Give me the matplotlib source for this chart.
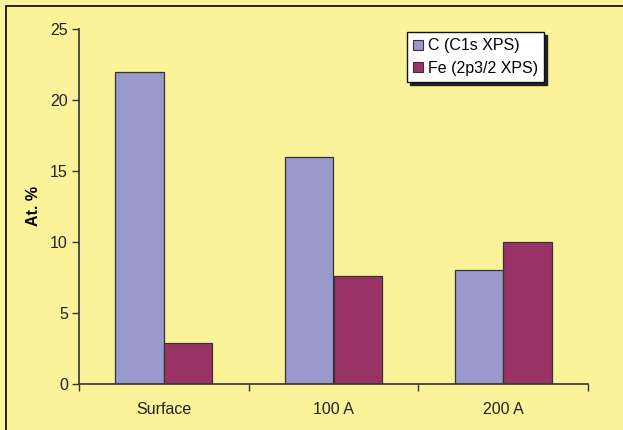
import numpy as np
import matplotlib.pyplot as plt
from matplotlib.patches import Rectangle

plt.rcParams['font.family'] = ['Liberation Sans', 'DejaVu Sans']

depths = ['Surface', '100 A', '200 A']
carbon = [22, 16, 8]
iron = [2.9, 7.6, 10]
series_names = ['C (C1s XPS)', 'Fe (2p3/2 XPS)']

bg = '#FAF39A'
col_c = '#9999CC'
col_fe = '#993366'
fs = 11.5

fig = plt.figure(figsize=(6.23, 4.30), dpi=100, facecolor=bg)
ax = fig.add_axes([79/623, 46/430, 509/623, 355/430])
ax.set_facecolor(bg)

x = np.arange(len(depths))
w = 0.285
ax.bar(x - w/2, carbon, w, color=col_c, edgecolor='#333333', linewidth=0.9, label=series_names[0])
ax.bar(x + w/2, iron, w, color=col_fe, edgecolor='#333333', linewidth=0.9, label=series_names[1])

ax.set_xlim(-0.5, 2.5)
ax.set_ylim(0, 25)
ax.set_yticks(range(0, 26, 5))
ax.set_xticks(x)
ax.set_xticklabels(depths, fontsize=fs, color='#222222')
ax.set_xticks([-0.5, 0.5, 1.5, 2.5], minor=True)
ax.tick_params(axis='x', which='major', length=0, pad=13)
ax.tick_params(axis='x', which='minor', length=5, width=1, color='#333333', direction='out')
ax.tick_params(axis='y', length=5, width=1, color='#333333', labelsize=fs, labelcolor='#222222', pad=3)

for s in ['top', 'right']:
    ax.spines[s].set_visible(False)
for s in ['left', 'bottom']:
    ax.spines[s].set_color('#333333')
    ax.spines[s].set_linewidth(1.2)

ax.set_ylabel('At. %', fontsize=fs, fontweight='bold')
ax.yaxis.set_label_coords((41 - 79) / 509, 0.5)

leg = ax.legend(loc='upper left', bbox_to_anchor=(328/509, 1 - 3/355), frameon=True,
                fancybox=False, shadow={'color': '#222222', 'alpha': 1.0}, fontsize=fs,
                handlelength=0.6, handleheight=0.6, handletextpad=0.3, borderpad=0.4,
                labelspacing=0.45, borderaxespad=0)
leg.get_frame().set_edgecolor('#111111')
leg.get_frame().set_linewidth(1.0)
for h in leg.legend_handles:
    h.set_edgecolor('#333333')
    h.set_linewidth(0.8)

# outer chart border
fig.patches.append(Rectangle((6/623, -0.1), 1.2, 1 - 6/430 + 0.1, transform=fig.transFigure,
                             fill=False, edgecolor='black', linewidth=1.2))

fig.savefig('out.png', dpi=100, facecolor=bg)
